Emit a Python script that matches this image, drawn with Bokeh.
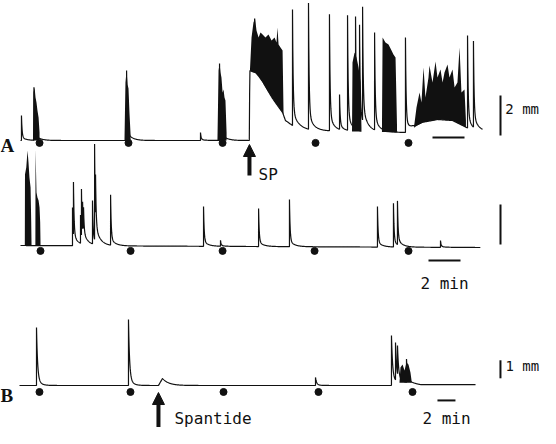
import numpy as np
from bokeh.plotting import figure
from bokeh.models import Range1d, Arrow, NormalHead
from bokeh.core.properties import value
from bokeh.embed import file_html
from bokeh.resources import INLINE

# ---------------- Panel A, upper record (time in min, amplitude in mm) ----------------
A1_base_t = [0.0, 14.30, 14.33, 14.63, 14.81, 15.13, 15.44, 15.75, 16.06, 16.38, 16.56,
             17.00, 17.63, 18.25, 20.75, 24.19, 24.50, 25.13, 26.06, 27.00, 27.63, 28.25, 28.88]
A1_base_mm = [0.0, 0.0, 3.5, 3.4, 3.25, 2.9, 2.5, 2.1, 1.75, 1.4, 1.0,
              0.75, 0.6, 0.5, 0.45, 0.4, 0.6, 0.9, 1.05, 1.0, 0.75, 0.5, 0.45]
A1_spike_t = [0.06, 0.84, 6.63, 11.25, 12.44, 14.63, 17.00, 18.00, 19.31, 19.94, 20.44,
              20.94, 21.19, 21.38, 22.13, 24.06, 27.94, 28.31]
A1_spike_mm = [1.25, 2.65, 3.5, 0.4, 3.85, 6.1, 6.55, 6.85, 6.3, 2.2, 6.2,
               6.05, 5.4, 6.1, 5.3, 5.15, 5.25, 4.8]
A1_burst1_t = [0.78, 0.81, 0.88, 0.94, 1.00, 1.06, 1.13, 1.19]
A1_burst1_mm = [0.05, 2.4, 2.65, 2.15, 1.9, 1.5, 1.15, 0.4]
A1_burst2_t = [6.50, 6.56, 6.63, 6.69, 6.75, 6.81, 6.88]
A1_burst2_mm = [0.05, 2.9, 3.5, 2.8, 2.6, 1.4, 0.3]
A1_burst3_t = [12.31, 12.38, 12.44, 12.50, 12.56, 12.63, 12.69, 12.75, 12.81, 12.88]
A1_burst3_mm = [0.05, 3.5, 3.85, 3.4, 3.15, 2.4, 2.55, 2.15, 2.0, 0.4]
A1_burst4_t = [14.34, 14.44, 14.56, 14.66, 14.75, 14.88, 15.00, 15.13, 15.31, 15.50,
               15.69, 15.88, 16.00, 16.06, 16.13, 16.25, 16.38, 16.44]
A1_burst4_mm = [3.5, 5.15, 5.9, 6.1, 5.5, 5.15, 5.4, 5.3, 5.15, 5.3,
                5.0, 5.15, 4.9, 5.65, 4.8, 4.65, 4.5, 1.4]
A1_burst5_t = [20.72, 20.75, 20.88, 21.00, 21.13, 21.25, 21.31]
A1_burst5_mm = [0.5, 3.9, 4.4, 4.15, 3.65, 2.9, 0.65]
A1_burst6_t = [22.59, 22.63, 22.81, 23.00, 23.19, 23.31, 23.44, 23.53]
A1_burst6_mm = [0.5, 5.15, 4.9, 4.8, 4.5, 4.3, 4.15, 0.8]
A1_burst7_t = [24.59, 24.75, 24.94, 25.06, 25.19, 25.31, 25.50, 25.56, 25.75, 25.94, 26.06, 26.25,
               26.38, 26.50, 26.69, 26.81, 27.00, 27.13, 27.31, 27.44, 27.56, 27.75, 27.84]
A1_burst7_mm = [0.65, 1.65, 2.4, 1.9, 3.65, 2.15, 3.15, 3.75, 2.9, 3.95, 3.15, 3.55,
                2.9, 3.4, 3.8, 3.15, 3.55, 2.65, 2.9, 4.65, 2.4, 2.55, 1.0]
A1_dots_t = [1.19, 6.75, 12.63, 18.44, 24.25]
A1_sp_t = 14.31

# ---------------- Panel A, lower record ----------------
A2_base_t = [0.0, 28.75]
A2_base_mm = [0.05, -0.05]
A2_spike_t = [3.25, 3.31, 3.75, 3.81, 3.88, 3.94, 4.50, 4.63, 4.69, 5.63, 11.44, 12.50,
              14.88, 16.81, 22.31, 23.31, 23.56, 26.25]
A2_spike_mm = [1.95, 2.65, 1.45, 2.35, 1.4, 1.1, 2.2, 4.8, 1.95, 2.55, 2.0, 0.3,
               1.9, 2.35, 2.0, 2.15, 2.15, 0.3]
A2_burst1_t = [0.27, 0.28, 0.36, 0.44, 0.50, 0.56, 0.63, 0.67, 0.69]
A2_burst1_mm = [0.05, 3.6, 3.95, 4.8, 4.2, 3.45, 2.95, 1.2, 0.1]
A2_burst2_t = [0.93, 0.94, 1.00, 1.06, 1.13, 1.19, 1.23, 1.25]
A2_burst2_mm = [0.05, 4.85, 2.7, 2.45, 2.3, 1.95, 1.2, 0.2]
A2_dots_t = [1.25, 6.88, 12.63, 18.38, 24.25]

# ---------------- Panel B ----------------
B_base_t = [0.0, 41.3, 41.4, 43.5, 44.5, 50.67]
B_base_mm = [0.0, 0.0, 0.15, 0.15, 0.05, 0.05]
B_spike_t = [1.89, 12.11, 32.89, 41.33, 41.78, 42.00, 43.00]
B_spike_mm = [3.22, 3.67, 0.45, 2.78, 2.22, 1.72, 1.44]
B_burst_t = [42.22, 42.33, 42.56, 42.78, 43.00, 43.22, 43.44, 43.56]
B_burst_mm = [0.15, 1.0, 1.17, 0.83, 1.28, 1.17, 0.72, 0.28]
B_bump_t = [15.44]
B_bump_mm = [0.39]
B_dots_t = [2.22, 12.33, 22.67, 33.22, 43.67]
B_spantide_t = 15.44


def trace(t1, step, base_t, base_mm, sp_t, sp_mm, tau_f, frac, tau_s,
          bump_t=(), bump_mm=(), rise=0.45, tau_b=0.7):
    grid = np.arange(0.0, t1 + step / 2, step)
    st = np.asarray(sp_t, float)
    grid = np.unique(np.concatenate([grid, st, st - 1e-3]))
    grid = grid[(grid >= 0) & (grid <= t1)]
    y = np.interp(grid, base_t, base_mm)
    for ts, lv in zip(sp_t, sp_mm):
        h = lv - np.interp(ts, base_t, base_mm)
        dt = grid - ts
        m = dt >= 0
        y[m] += h * ((1 - frac) * np.exp(-dt[m] / tau_f) + frac * np.exp(-dt[m] / tau_s))
    for tb, lv in zip(bump_t, bump_mm):
        h = lv - np.interp(tb, base_t, base_mm)
        dt = grid - tb
        r = (dt >= 0) & (dt < rise)
        y[r] += h * dt[r] / rise
        d = dt >= rise
        y[d] += h * np.exp(-(dt[d] - rise) / tau_b)
    return grid, y


p = figure(width=540, height=428, output_backend="svg", toolbar_location=None,
           x_range=Range1d(-1.25, 32.5), y_range=Range1d(-14.4, 7.0),
           x_axis_type=None, y_axis_type=None, min_border=0,
           outline_line_color=None, background_fill_color="white",
           border_fill_color="white")
p.xgrid.visible = False
p.ygrid.visible = False
p.extra_x_ranges = {"b": Range1d(-2.111, 57.889)}
p.extra_y_ranges = {"a2": Range1d(-9.1, 12.3), "b": Range1d(-2.389, 21.389)}

INK = "#111111"
LW = 1.2
MONO = value("DejaVu Sans Mono")
SERIF = value("Liberation Serif")

# ---- A1 ----
t, y = trace(28.88, 0.02, A1_base_t, A1_base_mm, A1_spike_t, A1_spike_mm, 0.04, 0.13, 0.3)
p.line(t, y, line_color=INK, line_width=LW)
for bt, bm in [(A1_burst1_t, A1_burst1_mm), (A1_burst2_t, A1_burst2_mm), (A1_burst3_t, A1_burst3_mm),
               (A1_burst4_t, A1_burst4_mm), (A1_burst5_t, A1_burst5_mm), (A1_burst6_t, A1_burst6_mm),
               (A1_burst7_t, A1_burst7_mm)]:
    lo = np.interp(bt, A1_base_t, A1_base_mm)
    p.varea(x=bt, y1=lo, y2=bm, fill_color=INK)
p.scatter(A1_dots_t, [-0.12] * len(A1_dots_t), size=7, color=INK)
p.add_layout(Arrow(end=NormalHead(size=12, fill_color=INK, line_color=INK), line_width=4,
                   line_color=INK, x_start=A1_sp_t, y_start=-1.75, x_end=A1_sp_t, y_end=-0.2))
p.text([A1_sp_t + 0.57], [-1.7], text=["SP"], text_font=MONO, text_font_size="16px",
       text_baseline="alphabetic", text_align="left", text_color=INK)
p.text([-1.25], [-0.25], text=["A"], text_font=SERIF, text_font_style="bold",
       text_font_size="19px", text_baseline="alphabetic", text_align="left", text_color=INK)
p.segment([30.0], [0.25], [30.0], [2.25], line_color=INK, line_width=2)
p.text([30.3], [1.6], text=["2 mm"], text_font=MONO, text_font_size="14px",
       text_baseline="middle", text_align="left", text_color=INK)
p.segment([25.75], [0.15], [27.75], [0.15], line_color=INK, line_width=2)

# ---- A2 ----
t, y = trace(28.75, 0.02, A2_base_t, A2_base_mm, A2_spike_t, A2_spike_mm, 0.04, 0.13, 0.3)
p.line(t, y, line_color=INK, line_width=LW, y_range_name="a2")
for bt, bm in [(A2_burst1_t, A2_burst1_mm), (A2_burst2_t, A2_burst2_mm)]:
    lo = np.interp(bt, A2_base_t, A2_base_mm)
    p.varea(x=bt, y1=lo, y2=bm, fill_color=INK, y_range_name="a2")
p.scatter(A2_dots_t, [-0.22] * len(A2_dots_t), size=7, color=INK, y_range_name="a2")
p.segment([30.0], [0.1], [30.0], [2.1], line_color=INK, line_width=2, y_range_name="a2")
p.segment([25.5], [-0.7], [27.5], [-0.7], line_color=INK, line_width=2, y_range_name="a2")
p.text([26.5], [-1.85], text=["2 min"], text_font=MONO, text_font_size="16px",
       text_baseline="alphabetic", text_align="center", text_color=INK, y_range_name="a2")

# ---- B ----
t, y = trace(50.67, 0.03, B_base_t, B_base_mm, B_spike_t, B_spike_mm, 0.12, 0.12, 0.4,
             bump_t=B_bump_t, bump_mm=B_bump_mm)
p.line(t, y, line_color=INK, line_width=LW, x_range_name="b", y_range_name="b")
lo = np.interp(B_burst_t, B_base_t, B_base_mm)
p.varea(x=B_burst_t, y1=lo, y2=B_burst_mm, fill_color=INK, x_range_name="b", y_range_name="b")
p.scatter(B_dots_t, [-0.36] * len(B_dots_t), size=7, color=INK, x_range_name="b", y_range_name="b")
p.add_layout(Arrow(end=NormalHead(size=12, fill_color=INK, line_color=INK), line_width=4,
                   line_color=INK, x_start=B_spantide_t, y_start=-2.3, x_end=B_spantide_t, y_end=-0.39,
                   x_range_name="b", y_range_name="b"))
p.text([B_spantide_t + 1.78], [-1.85], text=["Spantide"], text_font=MONO, text_font_size="16px",
       text_baseline="alphabetic", text_align="left", text_color=INK, x_range_name="b", y_range_name="b")
p.text([-2.111], [-0.56], text=["B"], text_font=SERIF, text_font_style="bold",
       text_font_size="19px", text_baseline="alphabetic", text_align="left", text_color=INK,
       x_range_name="b", y_range_name="b")
p.segment([53.44], [0.4], [53.44], [1.4], line_color=INK, line_width=2, x_range_name="b", y_range_name="b")
p.text([54.0], [1.06], text=["1 mm"], text_font=MONO, text_font_size="14px",
       text_baseline="middle", text_align="left", text_color=INK, x_range_name="b", y_range_name="b")
p.segment([46.44], [-0.83], [48.44], [-0.83], line_color=INK, line_width=2, x_range_name="b", y_range_name="b")
p.text([47.44], [-1.85], text=["2 min"], text_font=MONO, text_font_size="16px",
       text_baseline="alphabetic", text_align="center", text_color=INK, x_range_name="b", y_range_name="b")

open("out.html", "w").write(file_html(p, INLINE))
